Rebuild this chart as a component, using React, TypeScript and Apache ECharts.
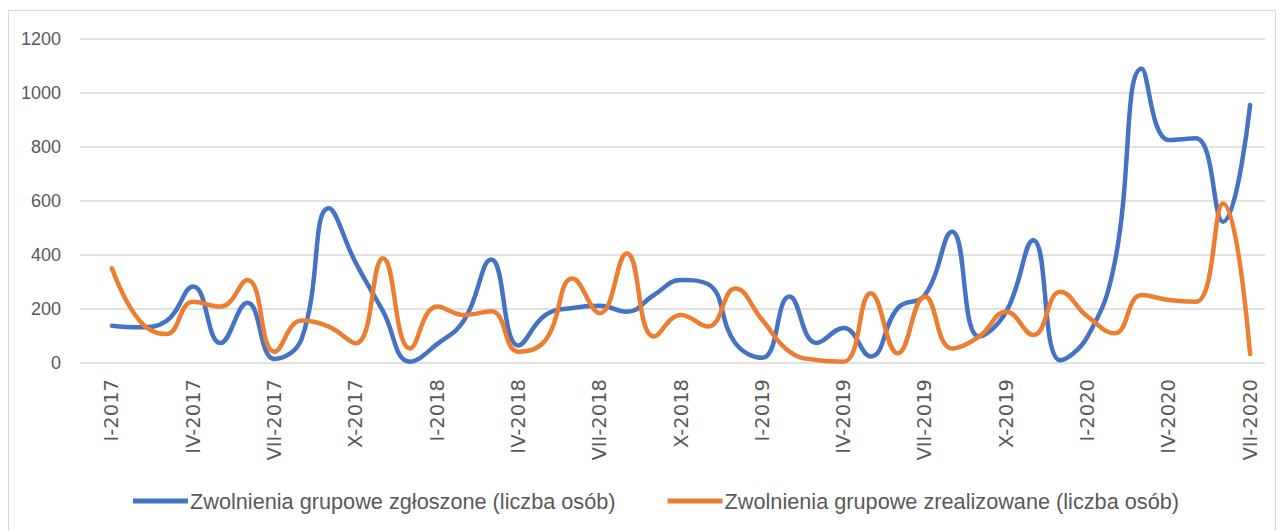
import React, { useEffect, useRef } from "react";
import * as echarts from "echarts";

const months: string[] = [
  "I-2017", "II-2017", "III-2017", "IV-2017", "V-2017", "VI-2017", "VII-2017", "VIII-2017", "IX-2017", "X-2017", "XI-2017", "XII-2017",
  "I-2018", "II-2018", "III-2018", "IV-2018", "V-2018", "VI-2018", "VII-2018", "VIII-2018", "IX-2018", "X-2018", "XI-2018", "XII-2018",
  "I-2019", "II-2019", "III-2019", "IV-2019", "V-2019", "VI-2019", "VII-2019", "VIII-2019", "IX-2019", "X-2019", "XI-2019", "XII-2019",
  "I-2020", "II-2020", "III-2020", "IV-2020", "V-2020", "VI-2020", "VII-2020",
];

const tickMonths: string[] = [
  "I-2017", "IV-2017", "VII-2017", "X-2017", "I-2018", "IV-2018", "VII-2018", "X-2018",
  "I-2019", "IV-2019", "VII-2019", "X-2019", "I-2020", "IV-2020", "VII-2020",
];

const zgloszone: number[] = [
  138, 132, 155, 283, 74, 223, 15, 90, 573, 370, 192, 5,
  70, 159, 383, 65, 178, 204, 212, 190, 252, 307, 292, 74,
  19, 246, 74, 130, 24, 204, 252, 486, 98, 190, 455, 10,
  98, 370, 1090, 826, 832, 523, 956,
];

const zrealizowane: number[] = [
  351, 159, 107, 227, 209, 307, 42, 157, 135, 73, 388, 54,
  209, 178, 192, 42, 85, 313, 184, 406, 98, 178, 135, 276,
  159, 42, 11, 5, 258, 36, 246, 54, 98, 190, 104, 264,
  172, 110, 252, 233, 227, 591, 33,
];

const seriesNames: string[] = [
  "Zwolnienia grupowe zgłoszone (liczba osób)",
  "Zwolnienia grupowe zrealizowane (liczba osób)",
];

const FONT = "'Liberation Sans', 'DejaVu Sans', sans-serif";
const WIDE = "'DejaVu Sans', 'Liberation Sans', sans-serif";

export default function App() {
  const ref = useRef<HTMLDivElement>(null);
  useEffect(() => {
    if (!ref.current) return;
    const chart = echarts.init(ref.current, undefined, { renderer: "svg" });
    const tickIdx = tickMonths.map((m) => months.indexOf(m));
    chart.setOption({
      animation: false,
      backgroundColor: "#ffffff",
      textStyle: { fontFamily: FONT },
      graphic: [
        {
          type: "rect",
          shape: { x: 8.5, y: 10.5, width: 1267, height: 530 },
          style: { fill: "none", stroke: "#d9d9d9", lineWidth: 1 },
          silent: true,
        },
      ],
      grid: { left: 80, right: 19, top: 39, height: 324, containLabel: false },
      legend: {
        left: 128,
        top: 485,
        icon: "rect",
        itemWidth: 55,
        itemHeight: 5,
        itemGap: 52,
        textStyle: { color: "#595959", fontSize: 21.7, fontFamily: FONT, padding: [0, 0, 0, -3] },
        data: seriesNames,
      },
      xAxis: {
        type: "value",
        min: -1.18,
        max: 42.55,
        axisLine: { show: false },
        axisTick: { show: false },
        splitLine: { show: false },
        axisLabel: {
          customValues: tickIdx,
          rotate: 90,
          margin: 16,
          color: "#595959",
          fontSize: 19.5,
          fontFamily: WIDE,
          formatter: (v: number) => months[Math.round(v)] ?? "",
        },
      },
      yAxis: {
        type: "value",
        min: 0,
        max: 1200,
        interval: 200,
        axisLine: { show: false },
        axisTick: { show: false },
        axisLabel: {
          color: "#595959",
          fontSize: 18,
          fontFamily: FONT,
          margin: 19,
          formatter: (v: number) => String(v),
        },
        splitLine: { lineStyle: { color: "#d9d9d9", width: 1.5 } },
      },
      series: [
        {
          name: seriesNames[0],
          type: "line",
          smooth: 0.45,
          showSymbol: false,
          symbol: "none",
          color: "#4472C4",
          lineStyle: { width: 4.5, color: "#4472C4", cap: "round", join: "round" },
          data: zgloszone.map((v, i) => [i, v]),
        },
        {
          name: seriesNames[1],
          type: "line",
          smooth: 0.45,
          showSymbol: false,
          symbol: "none",
          color: "#ED7D31",
          lineStyle: { width: 4.5, color: "#ED7D31", cap: "round", join: "round" },
          data: zrealizowane.map((v, i) => [i, v]),
        },
      ],
    });
    return () => chart.dispose();
  }, []);
  return (
    <div
      ref={ref}
      style={{ position: "fixed", left: 0, top: 0, width: 1284, height: 531 }}
    />
  );
}
